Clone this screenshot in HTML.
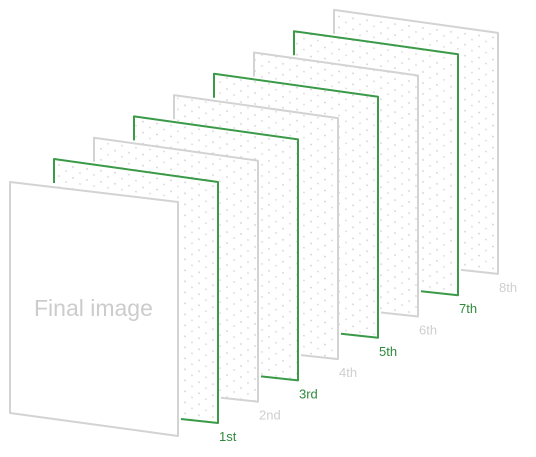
<!DOCTYPE html>
<html><head><meta charset="utf-8">
<style>
html,body{margin:0;padding:0;background:#fff;}
svg{display:block;font-family:"Liberation Sans",sans-serif;}
</style></head>
<body>
<svg id="chart" width="536" height="457" viewBox="0 0 536 457" xmlns="http://www.w3.org/2000/svg">
<defs>
<pattern id="dots" patternUnits="userSpaceOnUse" width="14" height="11" patternTransform="skewY(7.8)">
<circle cx="3" cy="3" r="0.9" fill="#cfcfcf"/>
<circle cx="10" cy="8" r="0.9" fill="#d6d6d6"/>
</pattern>
</defs>
<g id="layers"></g>
</svg>
<script>
const layerLabels = ["", "1st","2nd","3rd","4th","5th","6th","7th","8th"];
const layerHighlighted = [false,true,false,true,false,true,false,true,false];
const finalLabel = "Final image";

const svg = document.getElementById('chart');
const g = document.getElementById('layers');
const NS = "http://www.w3.org/2000/svg";
const dx = 40, dy = -21.3;
function layerPos(i){
  if (i === 0) return {x: 10, y: 182};
  return {x: 54 + dx*(i-1), y: 159 + dy*(i-1)};
}

for (let i = layerLabels.length - 1; i >= 0; i--) {
  const p = layerPos(i);
  const w = i === 0 ? 168 : 164;
  const slope = i === 0 ? 20 : 23;
  const hL = i === 0 ? 231 : 241;
  const hR = i === 0 ? 234 : 241;
  const pts = [[p.x,p.y],[p.x+w,p.y+slope],[p.x+w,p.y+slope+hR],[p.x,p.y+hL]];
  const col = layerHighlighted[i] ? "#3a9a48" : "#d3d3d3";
  const grp = document.createElementNS(NS,'g');
  
  
  const poly = document.createElementNS(NS,'polygon');
  poly.setAttribute('points', pts.map(q=>q.join(',')).join(' '));
  poly.setAttribute('fill', '#fff');
  poly.setAttribute('stroke', 'none');
  grp.appendChild(poly);
  if (i > 0) {
    const dp = document.createElementNS(NS,'polygon');
    dp.setAttribute('points', pts.map(q=>q.join(',')).join(' '));
    dp.setAttribute('fill', 'url(#dots)');
    grp.appendChild(dp);
  }
  const outline = document.createElementNS(NS,'path');
  if (i === 0) {
    outline.setAttribute('d', `M${pts[0]} L${pts[1]} L${pts[2]} L${pts[3]} Z`);
  } else {
    outline.setAttribute('d', `M${pts[0][0]},${pts[0][1]+24} L${pts[0]} L${pts[1]} L${pts[2]} L${pts[2][0]-37},${pts[2][1]-4}`);
  }
  outline.setAttribute('fill','none');
  outline.setAttribute('stroke', col);
  outline.setAttribute('stroke-width', '2');
  outline.setAttribute('stroke-linejoin','round');
  grp.appendChild(outline);
  g.appendChild(grp);
  if (i > 0) {
    const t = document.createElementNS(NS,'text');
    
    
    t.setAttribute('x', pts[2][0] + 1);
    t.setAttribute('y', pts[2][1] + 18);
    t.setAttribute('font-size', '13');
    t.setAttribute('fill', layerHighlighted[i] ? "#2f8a3c" : "#cfcfcf");
    t.textContent = layerLabels[i];
    svg.appendChild(t);
  } else {
    const t = document.createElementNS(NS,'text');
    
    
    t.setAttribute('x', 34);
    t.setAttribute('y', 316);
    t.setAttribute('font-size', '23');
    t.setAttribute('fill', '#cccccc');
    t.textContent = finalLabel;
    grp.appendChild(t);
  }
}
</script>
</body></html>
